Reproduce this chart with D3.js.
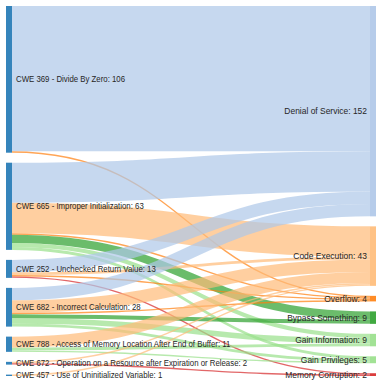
<!DOCTYPE html>
<html lang="en">
<head>
  <meta charset="UTF-8">
  <title>Sankey</title>
  <script src="https://d3js.org/d3.v7.min.js"></script>
  <style>
    body { margin: 0; background: #fff; }
    text { font-family: "Liberation Sans", Arial, sans-serif; font-size: 9px; fill: #262626; }
  </style>
</head>
<body>
<div class="canvas"></div>
<script>
  const sources = [
    'CWE 369 - Divide By Zero',
    'CWE 665 - Improper Initialization',
    'CWE 252 - Unchecked Return Value',
    'CWE 682 - Incorrect Calculation',
    'CWE 788 - Access of Memory Location After End of Buffer',
    'CWE 672 - Operation on a Resource after Expiration or Release',
    'CWE 457 - Use of Uninitialized Variable'
  ]
  const targets = ['Denial of Service', 'Code Execution', 'Overflow', 'Bypass Something',
    'Gain Information', 'Gain Privileges', 'Memory Corruption']
  const targetColors = ['#aec7e8', '#ffbb78', '#ff7f0e', '#2ca02c', '#98df8a', '#98df8a', '#d62728']

  // rows = sources, columns = targets
  const flows = [
    [105, 0, 1, 0, 0, 0, 0],
    [29, 22, 1, 6, 3, 2, 0],
    [9, 2, 1, 0, 0, 0, 1],
    [9, 9, 1, 3, 4, 2, 0],
    [0, 8, 0, 0, 2, 1, 0],
    [0, 1, 0, 0, 0, 0, 1],
    [0, 1, 0, 0, 0, 0, 0]
  ]

  const W = 382, H = 382
  const yTop = 6, yBottom = 376, pad = 10, nodeW = 6

  const svg = d3.select('.canvas').append('svg')
    .attr('width', W).attr('height', H)

  const srcTotals = flows.map(r => d3.sum(r))
  const tgtTotals = targets.map((t, j) => d3.sum(flows, r => r[j]))

  const v = d3.scaleLinear()
    .domain([0, d3.sum(srcTotals)])
    .range([0, (yBottom - yTop) - pad * (sources.length - 1)])
  const x = d3.scaleLinear().domain([0, 1]).range([6, 370])

  function stack(totals) {
    let y = yTop
    return totals.map(t => { const y0 = y; y += v(t) + pad; return { y0, y1: y0 + v(t), value: t } })
  }
  const srcNodes = stack(srcTotals)
  const tgtNodes = stack(tgtTotals)

  // link offsets: at source in target order, at target in source order
  const links = []
  const srcOff = srcNodes.map(n => n.y0)
  const tgtOff = tgtNodes.map(n => n.y0)
  const sy = flows.map(() => [])
  flows.forEach((row, i) => row.forEach((val, j) => {
    if (val > 0) { sy[i][j] = srcOff[i]; srcOff[i] += v(val) }
  }))
  for (let j = 0; j < targets.length; j++) {
    for (let i = 0; i < sources.length; i++) {
      const val = flows[i][j]
      if (val > 0) {
        const w = v(val)
        links.push({ i, j, w, s: sy[i][j] + w / 2, t: tgtOff[j] + w / 2 })
        tgtOff[j] += w
      }
    }
  }
  links.sort((a, b) => a.i - b.i || a.j - b.j)

  const linkPath = d3.linkHorizontal()
    .source(d => [x(0) + nodeW, d.s])
    .target(d => [x(1), d.t])

  svg.append('g').selectAll('path')
    .data(links)
    .enter()
    .append('path')
    .attr('d', linkPath)
    .attr('fill', 'none')
    .attr('stroke', d => targetColors[d.j])
    .attr('stroke-opacity', 0.7)
    .attr('stroke-width', d => Math.max(1, d.w))

  // nodes
  svg.append('g').selectAll('rect.src')
    .data(srcNodes)
    .enter()
    .append('rect')
    .attr('x', x(0)).attr('y', d => d.y0)
    .attr('width', nodeW).attr('height', d => Math.max(1, d.y1 - d.y0))
    .attr('fill', '#1f77b4').attr('fill-opacity', 0.9)

  svg.append('g').selectAll('rect.tgt')
    .data(tgtNodes)
    .enter()
    .append('rect')
    .attr('x', x(1)).attr('y', d => d.y0)
    .attr('width', nodeW).attr('height', d => Math.max(1, d.y1 - d.y0))
    .attr('fill', (d, j) => targetColors[j]).attr('fill-opacity', 0.9)

  // labels (glyphs a bit narrower than the local Arial clone)
  svg.append('g').selectAll('text')
    .data(srcNodes)
    .enter()
    .append('text')
    .attr('transform', d => `translate(${x(0) + nodeW + 4},${(d.y0 + d.y1) / 2}) scale(0.87,1)`)
    .attr('dy', '0.35em')
    .text((d, i) => `${sources[i]}: ${d.value}`)

  svg.append('g').selectAll('text')
    .data(tgtNodes)
    .enter()
    .append('text')
    .attr('transform', d => `translate(${x(1) - 3},${(d.y0 + d.y1) / 2}) scale(0.94,1)`)
    .attr('dy', '0.35em')
    .attr('text-anchor', 'end')
    .text((d, j) => `${targets[j]}: ${d.value}`)
</script>
</body>
</html>
